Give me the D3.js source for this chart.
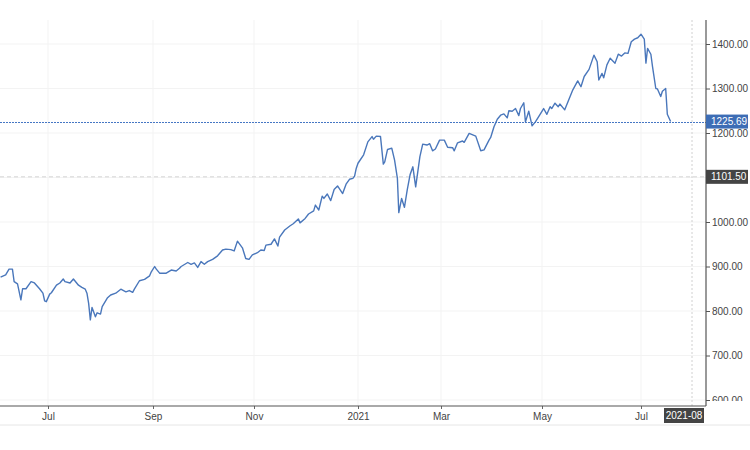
<!DOCTYPE html>
<html><head><meta charset="utf-8">
<script src="https://cdn.jsdelivr.net/npm/d3@7"></script>
<style>
body{margin:0;background:#fff}
svg{display:block;font-family:"Liberation Sans",Arial,sans-serif}
</style>
</head><body>
<svg id="c" width="750" height="450"></svg>
<script>
// ---------- data ----------
const dates = [
"2020-06-03","2020-06-06","2020-06-08","2020-06-10","2020-06-11","2020-06-13","2020-06-15","2020-06-16","2020-06-18","2020-06-21",
"2020-06-23","2020-06-26","2020-06-28","2020-06-29","2020-06-30","2020-07-02","2020-07-03","2020-07-06","2020-07-08","2020-07-10",
"2020-07-11","2020-07-14","2020-07-16","2020-07-19","2020-07-21","2020-07-23","2020-07-24","2020-07-25","2020-07-26","2020-07-27",
"2020-07-29","2020-07-30","2020-08-01","2020-08-02","2020-08-05","2020-08-07","2020-08-10","2020-08-13","2020-08-16","2020-08-18",
"2020-08-20","2020-08-21","2020-08-24","2020-08-27","2020-08-30","2020-08-31","2020-09-02","2020-09-03","2020-09-05","2020-09-09",
"2020-09-12","2020-09-15","2020-09-17","2020-09-18","2020-09-22","2020-09-24","2020-09-26","2020-09-28","2020-09-30","2020-10-02",
"2020-10-04","2020-10-07","2020-10-10","2020-10-13","2020-10-15","2020-10-18","2020-10-20","2020-10-22","2020-10-25","2020-10-27",
"2020-10-29","2020-10-31","2020-11-03","2020-11-05","2020-11-07","2020-11-08","2020-11-11","2020-11-13","2020-11-15","2020-11-16",
"2020-11-19","2020-11-22","2020-11-24","2020-11-27","2020-11-28","2020-12-01","2020-12-03","2020-12-06","2020-12-07","2020-12-09",
"2020-12-11","2020-12-12","2020-12-14","2020-12-16","2020-12-18","2020-12-20","2020-12-23","2020-12-25","2020-12-27","2020-12-29",
"2020-12-30","2020-12-31","2021-01-01","2021-01-05","2021-01-08","2021-01-11","2021-01-12","2021-01-14","2021-01-17","2021-01-19",
"2021-01-20","2021-01-22","2021-01-25","2021-01-27","2021-01-29","2021-01-30","2021-02-01","2021-02-03","2021-02-05","2021-02-07",
"2021-02-09","2021-02-11","2021-02-14","2021-02-16","2021-02-19","2021-02-21","2021-02-23","2021-02-25","2021-02-28","2021-03-03",
"2021-03-05","2021-03-08","2021-03-09","2021-03-11","2021-03-14","2021-03-15","2021-03-18","2021-03-22","2021-03-25","2021-03-27",
"2021-03-30","2021-03-31","2021-04-02","2021-04-04","2021-04-06","2021-04-08","2021-04-10","2021-04-11","2021-04-13","2021-04-15",
"2021-04-17","2021-04-18","2021-04-20","2021-04-21","2021-04-23","2021-04-25","2021-04-27","2021-04-29","2021-05-02","2021-05-04",
"2021-05-06","2021-05-07","2021-05-09","2021-05-11","2021-05-12","2021-05-15","2021-05-17","2021-05-20","2021-05-23","2021-05-25",
"2021-05-27","2021-05-30","2021-06-02","2021-06-04","2021-06-05","2021-06-07","2021-06-08","2021-06-10","2021-06-12","2021-06-15",
"2021-06-17","2021-06-19","2021-06-21","2021-06-23","2021-06-25","2021-06-27","2021-06-29","2021-07-01","2021-07-03","2021-07-04",
"2021-07-05","2021-07-07","2021-07-08","2021-07-10","2021-07-11","2021-07-13","2021-07-14","2021-07-16","2021-07-17","2021-07-19"
];
const values = [
876,881,894,894,866,861,825,850,850,866,
863,850,840,823,821,838,841,858,863,872,
866,863,872,858,853,849,840,817,780,808,
787,796,793,810,829,836,840,849,843,846,
842,849,868,871,879,888,900,894,885,885,
892,890,896,900,909,905,908,898,911,905,
911,916,924,937,939,938,935,957,942,918,
916,926,931,937,936,948,950,962,946,966,
982,991,996,1007,998,1008,1018,1025,1038,1027,
1058,1053,1063,1048,1073,1081,1064,1085,1096,1098,
1103,1121,1132,1151,1180,1192,1186,1193,1192,1130,
1135,1163,1166,1139,1098,1021,1053,1033,1072,1106,
1124,1079,1147,1175,1173,1176,1160,1164,1184,1184,
1168,1167,1160,1178,1182,1179,1199,1193,1160,1162,
1184,1190,1214,1231,1240,1243,1234,1250,1249,1255,
1239,1255,1268,1225,1249,1216,1225,1237,1255,1242,
1259,1255,1267,1259,1265,1252,1270,1297,1317,1304,
1327,1343,1375,1360,1319,1334,1324,1353,1368,1357,
1377,1373,1380,1379,1405,1411,1414,1422,1411,1357,
1390,1377,1349,1300,1299,1282,1294,1300,1242,1225.69
];
const yTicks = [600,700,800,900,1000,1100,1200,1300,1400];
const xTickDates = ["2020-07-01","2020-09-01","2020-11-01","2021-01-01","2021-03-01","2021-05-01","2021-07-01"];
const xTickLabels = ["Jul","Sep","Nov","2021","Mar","May","Jul"];
const lastValue = 1225.69;
const refValue = 1101.50;
const markerDate = "2021-08-01";
const markerLabel = "2021-08";

// ---------- setup ----------
const parse = d3.timeParse("%Y-%m-%d");
const data = dates.map((d,i)=>({date:parse(d), value:values[i]}));
const svg = d3.select("#c");
const W = 750, axisX = 706, topY = 20, axisY = 406;

// piecewise time scale (source chart compresses time unevenly)
const x = d3.scaleTime()
  .domain(["2020-07-01","2020-09-01","2020-11-01","2021-01-01","2021-03-01","2021-05-01","2021-07-01","2021-08-01"].map(parse))
  .range([48,153,254,358,441,542,641,692]);
const y = d3.scaleLinear().domain([600,1400]).range([400,44]);

const defs = svg.append("defs");
defs.append("clipPath").attr("id","plot").append("rect").attr("x",0).attr("y",topY).attr("width",axisX).attr("height",axisY-topY);
defs.append("clipPath").attr("id","yax").append("rect").attr("x",0).attr("y",0).attr("width",W).attr("height",401);

// gridlines
const grid = svg.append("g");
grid.selectAll("line.v").data(xTickDates.map(parse)).join("line")
  .attr("x1",d=>x(d)).attr("x2",d=>x(d)).attr("y1",topY).attr("y2",axisY)
  .attr("stroke","#f3f3f3").attr("stroke-width",1);
grid.selectAll("line.h").data(yTicks).join("line")
  .attr("x1",0).attr("x2",axisX).attr("y1",d=>y(d)).attr("y2",d=>y(d))
  .attr("stroke","#f3f3f3").attr("stroke-width",1);

// marker vertical dotted line
svg.append("line").attr("x1",x(parse(markerDate))).attr("x2",x(parse(markerDate)))
  .attr("y1",topY).attr("y2",axisY).attr("stroke","#d0d0d0").attr("stroke-dasharray","2,2");

// reference dashed line
svg.append("line").attr("x1",0).attr("x2",axisX).attr("y1",y(refValue)).attr("y2",y(refValue))
  .attr("stroke","#d4d4d4").attr("stroke-dasharray","4,3");

// price line
svg.append("path").datum(data).attr("clip-path","url(#plot)")
  .attr("fill","none").attr("stroke","#4a77bb").attr("stroke-width",1.4).attr("stroke-linejoin","round")
  .attr("d", d3.line().x(d=>x(d.date)).y(d=>y(d.value)));

// last value dotted line
const ly = Math.round(y(lastValue)) + 0.5;
svg.append("line").attr("x1",0).attr("x2",axisX).attr("y1",ly).attr("y2",ly)
  .attr("stroke","#4677c4").attr("stroke-width",1).attr("stroke-dasharray","2,1");

// right axis (labels clipped just above the bottom axis, as in the source)
const yWrap = svg.append("g").attr("clip-path","url(#yax)");
const yAxis = yWrap.append("g").attr("transform",`translate(${axisX},0)`)
  .call(d3.axisRight(y).tickValues(yTicks).tickFormat(d3.format(".2f")).tickSize(4).tickPadding(2));
yAxis.select(".domain").remove();
yAxis.selectAll("line").attr("stroke","#555");
yAxis.selectAll("text").attr("fill","#444").style("font-size","10px").style("font-family","'Liberation Sans',Arial,sans-serif");
svg.append("line").attr("x1",axisX).attr("x2",axisX).attr("y1",topY).attr("y2",axisY).attr("stroke","#555").attr("stroke-width",1.2);

// bottom axis
const xAxis = svg.append("g").attr("transform",`translate(0,${axisY})`)
  .call(d3.axisBottom(x).tickValues(xTickDates.map(parse)).tickFormat((d,i)=>xTickLabels[i]).tickSize(3).tickPadding(4));
xAxis.select(".domain").remove();
xAxis.selectAll("line").attr("stroke","#666");
xAxis.selectAll("text").attr("fill","#444").style("font-size","10px").style("font-family","'Liberation Sans',Arial,sans-serif");
svg.append("line").attr("x1",0).attr("x2",axisX).attr("y1",axisY).attr("y2",axisY).attr("stroke","#555").attr("stroke-width",1.2);

// separator under the axis
svg.append("line").attr("x1",0).attr("x2",W).attr("y1",425).attr("y2",425).attr("stroke","#e6e6e6");

// value labels
function tag(val, bg){
  const g = svg.append("g").attr("transform",`translate(${axisX},${y(val)})`);
  g.append("rect").attr("x",0).attr("y",-7).attr("width",42).attr("height",14).attr("fill",bg);
  g.append("text").attr("x",5).attr("y",0).attr("dy","0.35em").attr("fill","#fff")
    .style("font-size","10px").text(d3.format(".2f")(val));
}
tag(refValue,"#444");
tag(lastValue,"#3d6db5");

// marker date label
const mg = svg.append("g").attr("transform",`translate(${axisX-42},${axisY+2})`);
mg.append("rect").attr("width",40).attr("height",15).attr("fill","#444");
mg.append("text").attr("x",20).attr("y",7.5).attr("dy","0.35em").attr("text-anchor","middle")
  .attr("fill","#fff").style("font-size","10px").text(markerLabel);
</script>
</body></html>
